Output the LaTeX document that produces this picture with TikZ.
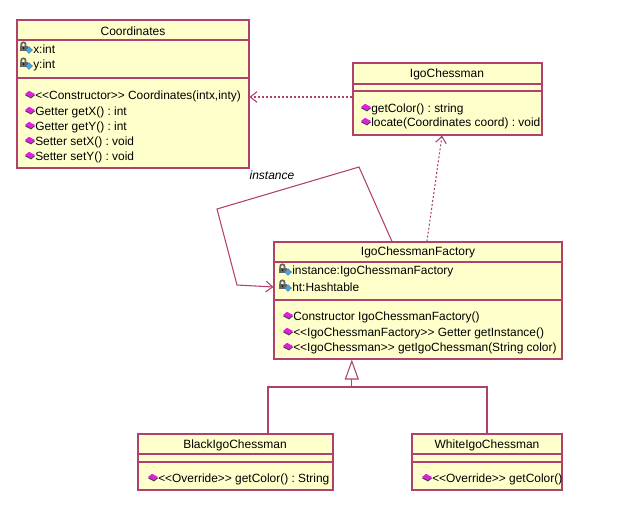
\documentclass[tikz,border=0pt]{standalone}
\usepackage{fontspec}
\setmainfont{Liberation Sans}
\usetikzlibrary{fit,calc,arrows.meta}
\definecolor{umlborder}{HTML}{B0406E}
\definecolor{umlfill}{HTML}{FFFFCC}
\definecolor{opmag}{HTML}{E020E0}
\definecolor{attcyan}{HTML}{30B0F0}
\newcommand\stlo{<{}<}
\newcommand\stgo{>{}>}
\frenchspacing
\tikzset{
  umlbox/.style={draw=umlborder, fill=umlfill, line width=0.8pt, inner sep=0pt},
  sepline/.style={draw=umlborder, line width=0.8pt},
  title/.style={font=\fontsize{9}{10}\selectfont, inner sep=0pt},
  member/.style={font=\fontsize{8.95}{10}\selectfont, anchor=west, inner sep=0pt},
  dep/.style={draw=umlborder, line width=0.8pt, dash pattern=on 1.5pt off 1.5pt, -{Straight Barb[open,length=5pt,width=8pt]}},
  assoc/.style={draw=umlborder, line width=0.8pt, -{Straight Barb[length=5pt,width=8pt]}},
  genline/.style={draw=umlborder, line width=0.8pt},
  gentip/.style={draw=umlborder, line width=0.8pt, -{Triangle[open,length=15pt,width=10.5pt]}},
  pics/opicon/.style={code={
    \fill[black!75] (-5,1.2) -- (-1,-2.2) -- (5,1.2) -- (1,4.4) -- cycle;
    \fill[opmag] (-5,0) -- (-1,-3.2) -- (5,0) -- (1,3.2) -- cycle;
  }},
  pics/atticon/.style={code={
    \draw[black!60, line width=1.3pt] (-5.8,-1) -- (-5.8,-2.5) arc (180:360:2.2) -- (-1.4,-1);
    \fill[black!60] (-7.5,-1.2) rectangle (0.5,4);
    \fill[black!90] (-3.5,1.2) circle (1);
    \fill[attcyan, draw=black!60, line width=0.3pt] (-1.5,3) -- (2,-0.3) -- (5.5,3) -- (2,6.3) -- cycle;
  }}
}
\begin{document}
\begin{tikzpicture}[x=0.75pt,y=-0.75pt]
\useasboundingbox (0,0) rectangle (643,529);

% Coordinates
\node[umlbox, fit={(17,20) (249,168)}] (coord) {};
\draw[sepline] (17,40) -- (249,40);
\draw[sepline] (17,78) -- (249,78);
\node[title] (coordT) at (133,31) {Coordinates};
\pic at (27,47) {atticon};
\node[member] (cx) at (33,49) {x:int};
\pic at (27,63) {atticon};
\node[member] (cy) at (33,65) {y:int};
\pic at (30,94) {opicon};
\node[member] (c1) at (35,96) {\stlo Constructor\stgo{} Coordinates(intx,inty)};
\pic at (30,110) {opicon};
\node[member] (c2) at (35,112) {Getter getX() : int};
\pic at (30,125) {opicon};
\node[member] (c3) at (35,127) {Getter getY() : int};
\pic at (30,140) {opicon};
\node[member] (c4) at (35,142) {Setter setX() : void};
\pic at (30,155) {opicon};
\node[member] (c5) at (35,157) {Setter setY() : void};

% IgoChessman
\node[umlbox, fit={(353,63) (542,135)}] (igo) {};
\draw[sepline] (353,84) -- (542,84);
\draw[sepline] (353,91) -- (542,91);
\node[title] (igoT) at (447,74) {IgoChessman};
\pic at (366,107) {opicon};
\node[member] (i1) at (371,109) {getColor() : string};
\pic at (366,121) {opicon};
\node[member] (i2) at (371,123) {locate(Coordinates coord) : void};

% IgoChessmanFactory
\node[umlbox, fit={(274,242) (562,359)}] (fac) {};
\draw[sepline] (274,262) -- (562,262);
\draw[sepline] (274,300) -- (562,300);
\node[title] (facT) at (418,252) {IgoChessmanFactory};
\pic at (286,269) {atticon};
\node[member] (f1) at (292,271) {instance:IgoChessmanFactory};
\pic at (286,285) {atticon};
\node[member] (f2) at (292,287) {ht:Hashtable};
\pic at (288,315) {opicon};
\node[member] (f3) at (293,317) {Constructor IgoChessmanFactory()};
\pic at (288,331) {opicon};
\node[member] (f4) at (293,333) {\stlo IgoChessmanFactory\stgo{} Getter getInstance()};
\pic at (288,346) {opicon};
\node[member] (f5) at (293,348) {\stlo IgoChessman\stgo{} getIgoChessman(String color)};

% BlackIgoChessman
\node[umlbox, fit={(138,434) (333,490)}] (black) {};
\draw[sepline] (138,454) -- (333,454);
\draw[sepline] (138,462) -- (333,462);
\node[title] (blackT) at (235,445) {BlackIgoChessman};
\pic at (153,477) {opicon};
\node[member] (b1) at (158,479) {\stlo Override\stgo{} getColor() : String};

% WhiteIgoChessman
\node[umlbox, fit={(412,434) (562,490)}] (white) {};
\draw[sepline] (412,454) -- (562,454);
\draw[sepline] (412,462) -- (562,462);
\node[title] (whiteT) at (487,445) {WhiteIgoChessman};
\pic at (427,477) {opicon};
\node[member] (w1) at (432,479) {\stlo Override\stgo{} getColor()};

% dependency IgoChessman -> Coordinates
\draw[dep] ([yshift=1.5pt]igo.west) -- ([yshift=1.5pt]igo.west -| coord.east);
% dependency Factory -> IgoChessman
\draw[dep] ($(fac.north west)!0.531!(fac.north east)$) -- ($(igo.south west)!0.471!(igo.south east)$);
% self association
\draw[assoc] ($(fac.north west)!0.41!(fac.north east)$) -- (359,167) -- (217,209) -- (237,285) -- (fac.west |- 0,287);
\node[font=\fontsize{9}{10}\selectfont\itshape, inner sep=0pt] (inst) at (272,175) {instance};

% generalization
\coordinate (gj) at ($(fac.south west)!0.271!(fac.south east)$);
\draw[genline] (black.north -| 268,0) |- (white.north |- 0,387) -- (white.north);
\draw[gentip] (gj |- 0,387) -- (gj);
\end{tikzpicture}
\end{document}
